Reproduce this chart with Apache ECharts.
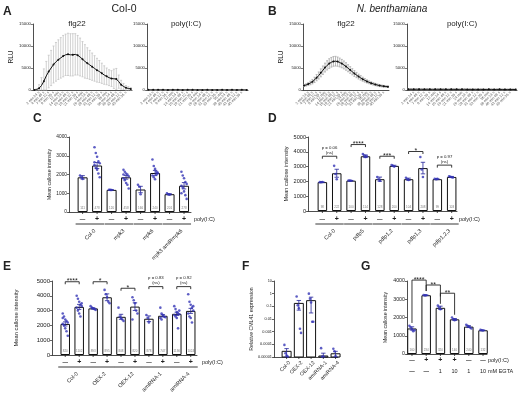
<!DOCTYPE html>
<html><head><meta charset="utf-8">
<script src="https://cdn.jsdelivr.net/npm/echarts@6/dist/echarts.min.js"></script>
<style>html,body{margin:0;padding:0;background:#fff}#c{width:520px;height:393px}</style>
</head><body><div id="c"></div>
<script>
// ---------- DATA ----------
const timeLabels = Array.from({length:41},(_,i)=>{const t=i*72,m=Math.floor(t/60),s=t%60;return s?`${m} min ${s} s`:`${m} min`;});
const colFlgMean=[0,100,400,1000,2000,3200,4200,5000,5800,6400,6900,7300,7700,8000,8100,8000,8000,8100,7900,7500,7000,6500,6100,5700,5300,4900,4500,4200,3800,3400,3100,2800,2600,2550,2500,1900,1200,800,500,350,250];
const colFlgSd=[50,200,800,1800,2800,3300,3700,4000,4200,4400,4500,4600,4700,4700,4800,4800,4800,4700,4500,4300,4000,3800,3500,3300,3100,2900,2700,2500,2300,2100,1900,1800,1800,2200,2400,1500,1000,700,500,400,300];
const colPolyMean=[40,30,30,20,30,40,30,20,20,30,30,40,30,30,20,20,30,30,30,20,20,30,20,30,30,20,20,30,20,20,30,20,20,20,30,20,20,20,30,20,20];
const colPolySd=[20,20,20,20,20,20,20,20,20,20,20,20,20,20,20,20,20,20,20,20,20,20,20,20,20,20,20,20,20,20,20,20,20,20,20,20,20,20,20,20,20];
const nbFlgMean=[1000,1150,1350,1600,1900,2300,2800,3300,3900,4500,5100,5600,6000,6300,6500,6550,6450,6250,6000,5700,5350,4950,4550,4150,3750,3400,3050,2750,2450,2200,1950,1750,1550,1400,1250,1120,1000,920,850,790,740];
const nbFlgSd=[200,250,300,400,500,600,700,800,900,950,1000,1050,1100,1100,1100,1100,1050,1000,950,900,850,800,750,700,650,600,550,500,450,400,350,320,300,280,260,240,220,200,190,180,170];
const nbPolyMean=[180,170,160,170,180,160,150,170,160,150,160,170,150,160,150,140,160,150,150,140,150,160,140,150,140,150,140,150,140,130,150,140,130,140,150,130,140,130,140,130,130];
const nbPolySd=[90,90,80,90,80,80,80,90,80,80,80,80,80,80,70,80,80,70,80,70,70,80,70,70,70,70,70,70,70,70,70,70,70,70,70,70,70,70,70,70,70];

const cGroups=['Col-0','mpk3','mpk6','mpk3 amiRmpk6'];
const cSigns=['—','+','—','+','—','+','—','+'];
const cMeans=[1850,2480,1180,1850,1200,2080,950,1400];
const cSems=[90,160,15,100,170,140,30,170];
const cN=['111','478','120','458','166','240','201','278'];
const cPoints=[[1950,1850,1760],[3450,3150,2950,2700,2600,2500,2350,2250,2050,1850,2650],[1190,1180,1170],[2250,2150,2050,2000,1900,1800,1700,1550,1450,1250,2000],[1450,1350,950],[2800,2450,2300,2150,2050,1950,1850,1750,2000,2100],[1000,950,920],[2150,1950,1800,1600,1500,1400,1300,1100,900,700,1000]];

const dGroups=['Col-0','pdlp5','pdlp1,2','pdlp1,3','pdlp1,2,3'];
const dSigns=['—','+','—','+','—','+','—','+','—','+'];
const dMeans=[1950,2550,2050,3700,2150,3050,2150,2900,2150,2300];
const dSems=[15,270,15,90,140,40,70,390,25,35];
const dN=['98','222','100','114','128','200','104','208','99','103'];
const dPoints=[[1950,1940,1960],[3050,2500,2150],[2060,2050,2040],[3850,3750,3650,3700],[2300,2150,2050],[3100,3050,3000],[2250,2150,2100],[3650,2800,2300],[2180,2150,2170],[2350,2310,2280,2260]];
const dBrackets=[[0,1,3700,null,null,'p = 0.06\n(ns)'],[2,3,4490,null,null,'****'],[4,5,3700,null,null,'***'],[6,7,4020,null,null,'*'],[8,9,3100,null,null,'p = 0.97\n(ns)']];

const eGroups=['Col-0','OEX-2','OEX-12','amiRNA-1','amiRNA-4'];
const eSigns=['—','+','—','+','—','+','—','+','—','+'];
const eMeans=[2100,3250,3150,3900,2580,3270,2450,2650,2780,2980];
const eSems=[140,170,40,230,170,260,190,80,110,170];
const eN=['820','1102','893','895','808','820','878','747','1190','1024'];
const ePoints=[[2800,2600,2400,2300,2200,2100,2000,1800,1600,1300,2500],[4000,3800,3600,3400,3300,3200,3000,2800,2600,3500],[3300,3200,3150,3100,3050],[4400,4100,3900,3600,3500],[3200,2600,2500,2400,2300],[3900,3700,3500,3000,2800,2400],[2700,2500,2200],[3200,2800,2700,2600,2550,2500,2400],[3300,3100,2900,2800,2750,2700,2600,2500,1800,3000],[4100,3600,3400,3200,3000,2800,2600,2500,2200,3300]];
const eBrackets=[[0,1,4950,null,null,'****'],[2,3,4950,null,null,'*'],[4,5,4510,null,null,'*'],[6,7,4620,null,null,'p = 0.83\n(ns)'],[8,9,4620,null,null,'p = 0.92\n(ns)']];

const fGroups=['Col-0','OEX-2','OEX-12','amiRNA-1','amiRNA-4'];
const fMeans=[2.8e-5,0.17,0.28,1.2e-5,1.8e-5];
const fSems=[1.8e-5,0.12,0.25,0.8e-5,1.0e-5];
const fPoints=[[9e-5,2e-5,1.3e-5,1.1e-5],[0.6,0.12,0.07,0.0017,0.0008],[1.0,0.4,0.2,0.006,0.006],[5e-5,1.1e-5,1.05e-5],[4.5e-5,2.8e-5,1.2e-5]];

const gPoly=['—','+','+','+','—','—'];
const gEgta=['—','—','1','10','1','10'];
const gMeans=[1400,3220,2530,1900,1500,1300];
const gSems=[90,15,90,45,50,15];
const gN=['160','234','320','140','240','132'];
const gPoints=[[1550,1450,1350,1250,1300],[3230,3210,3220],[2650,2550,2450],[2000,1900,1850,1880],[1600,1550,1500,1450,1400],[1320,1300,1290]];
const gBrackets=[[0,1,4050,1700,3450,'****'],[1,2,3780,3450,2750,'**'],[2,3,3330,3150,2150,'**']];

// ---------- BUILD ----------
const F="'Liberation Sans', Arial, sans-serif";
const INK='#222', PT='#3535b5', ERR='#23239a';
const grids=[],xAxes=[],yAxes=[],series=[],gfx=[];
const plain=v=>String(v);

function txt(x,y,text,size,o={}){
  return {type:'text',x,y,rotation:o.rot||0,z2:10,style:{text,fill:o.fill||INK,
    font:`${o.italic?'italic ':''}${o.bold?'bold ':''}${size}px ${F}`,
    align:o.align||'center',textAlign:o.align||'center',
    verticalAlign:o.va||'middle',textVerticalAlign:o.va||'middle',lineHeight:o.lh||size}};
}
const ln=(x1,y1,x2,y2,c=INK,w=0.8)=>({type:'line',shape:{x1,y1,x2,y2},style:{stroke:c,lineWidth:w}});

function errRender(color,hw,floor){
  return (params,api)=>{
    const x=api.value(0),m=api.value(1),s=api.value(2);
    const hi=api.coord([x,m+s]),lo=api.coord([x,Math.max(m-s,floor)]);
    return {type:'group',children:[ln(hi[0],hi[1],lo[0],lo[1],color),ln(hi[0]-hw,hi[1],hi[0]+hw,hi[1],color),ln(lo[0]-hw,lo[1],lo[0]+hw,lo[1],color)]};
  };
}

function kinPanel(box,mean,sd,errColor,yName){
  const gi=grids.length;
  grids.push({left:box[0],top:box[1],width:box[2],height:box[3]});
  xAxes.push({type:'category',gridIndex:gi,data:timeLabels,boundaryGap:true,
    axisLine:{onZero:false,lineStyle:{color:INK,width:0.8}},
    axisTick:{interval:0,length:1.5,lineStyle:{color:INK,width:0.6}},
    axisLabel:{interval:1,rotate:45,fontSize:3.7,margin:2,color:'#555',fontFamily:F,hideOverlap:false}});
  yAxes.push({type:'value',gridIndex:gi,min:0,max:15000,interval:5000,name:yName,nameLocation:'middle',nameGap:17,
    nameTextStyle:{fontSize:6.5,fontFamily:F,color:INK},
    axisLine:{show:true,onZero:false,lineStyle:{color:INK,width:0.8}},axisTick:{show:true,length:2,lineStyle:{color:INK,width:0.6}},
    splitLine:{show:false},axisLabel:{fontSize:4.3,margin:2,color:INK,fontFamily:F,formatter:plain}});
  series.push({type:'custom',xAxisIndex:gi,yAxisIndex:gi,silent:true,clip:false,z:2,encode:{x:0,y:1},
    data:mean.map((m,i)=>[i,m,sd[i]]),renderItem:errRender(errColor,1,0)});
  series.push({type:'line',xAxisIndex:gi,yAxisIndex:gi,data:mean,symbol:'circle',symbolSize:2,silent:true,
    lineStyle:{color:'#111',width:1},itemStyle:{color:'#111'},z:3});
}

function barPanel(o){
  const gi=grids.length;
  grids.push({left:o.box[0],top:o.box[1],width:o.box[2],height:o.box[3]});
  xAxes.push({type:'value',gridIndex:gi,min:o.xmin,max:o.xmax,axisLine:{onZero:false,lineStyle:{color:INK,width:0.8}},
    axisTick:{show:false},axisLabel:{show:false},splitLine:{show:false}});
  const ya={gridIndex:gi,name:o.yName,nameLocation:'middle',nameGap:o.nameGap,
    nameTextStyle:{fontSize:o.nameSize,fontFamily:F,color:INK},
    axisLine:{show:true,onZero:false,lineStyle:{color:INK,width:0.8}},axisTick:{show:true,length:2,lineStyle:{color:INK,width:0.7}},
    splitLine:{show:false},axisLabel:{fontSize:o.labSize,margin:2,color:INK,fontFamily:F,formatter:plain}};
  if(o.log){Object.assign(ya,{type:'log',logBase:10,min:1e-5,max:10,splitNumber:6});
    ya.axisLabel.formatter=v=>v>=1?String(Math.round(v)):v.toFixed(Math.round(-Math.log10(v)));}
  else Object.assign(ya,{type:'value',min:0,max:o.ymax,interval:o.yint});
  yAxes.push(ya);
  const base=o.log?1e-5:0;
  if(o.log){
    series.push({type:'custom',xAxisIndex:gi,yAxisIndex:gi,silent:true,clip:false,z:2,encode:{x:0,y:1},
      data:o.means.map((m,i)=>[i,m]),renderItem:(p,api)=>{
        const a=api.coord([api.value(0),api.value(1)]),b=api.coord([api.value(0),base]);
        return {type:'rect',shape:{x:a[0]-o.barW/2,y:a[1],width:o.barW,height:b[1]-a[1]},style:{fill:'#fff',stroke:'#111',lineWidth:1}};
      }});
  } else {
    series.push({type:'bar',xAxisIndex:gi,yAxisIndex:gi,silent:true,barWidth:o.barW,z:2,
      data:o.means.map((m,i)=>[i,m]),itemStyle:{color:'#fff',borderColor:'#111',borderWidth:1},
      label:{show:true,position:'insideBottom',distance:2,formatter:p=>o.ns[p.dataIndex],fontSize:3,color:'#777',fontFamily:F}});
  }
  series.push({type:'custom',xAxisIndex:gi,yAxisIndex:gi,silent:true,clip:false,z:4,encode:{x:0,y:1},
    data:o.means.map((m,i)=>[i,m,o.sems[i]]),renderItem:errRender(ERR,2.2,base)});
  const pts=[];
  o.points.forEach((arr,i)=>arr.forEach((v,k)=>pts.push([i+((k%5)-2)*0.09,v])));
  series.push({type:'scatter',xAxisIndex:gi,yAxisIndex:gi,silent:true,z:5,symbolSize:2.6,itemStyle:{color:PT},data:pts});
  series.push({type:'custom',xAxisIndex:gi,yAxisIndex:gi,silent:true,clip:false,z:6,encode:{x:0,y:1},
    data:o.means.map((m,i)=>[i,base]),renderItem:(params,api)=>{
      const i=api.value(0),p=api.coord([i,base]),ch=[ln(p[0],p[1],p[0],p[1]+2)];
      if(o.signs){const s=o.signs[i];ch.push(txt(p[0],p[1]+o.signDy,s,s==='+'?7:5.5,{bold:true}));}
      if(o.row2){ch.push(txt(p[0],p[1]+o.row2Dy,o.row2[i],5.5,{bold:o.row2[i]==='—'}));}
      if(o.groups&&i%2===0){const q=api.coord([i+1,base]);
        ch.push(ln(p[0]-7,p[1]+o.ulDy,q[0]+7,p[1]+o.ulDy,INK,0.9));
        ch.push(txt((p[0]+q[0])/2+5,p[1]+o.ulDy+6,o.groups[i/2],o.grpSize,{align:'right',rot:Math.PI/4}));}
      if(o.labels){ch.push(txt(p[0]+3,p[1]+5,o.labels[i],o.grpSize,{align:'right',rot:Math.PI/4}));}
      return {type:'group',children:ch};
    }});
  if(o.brackets){
    series.push({type:'custom',xAxisIndex:gi,yAxisIndex:gi,silent:true,clip:false,z:6,encode:{x:0,y:2},
      data:o.brackets.map(b=>[b[0],b[1],b[2]]),renderItem:(params,api)=>{
        const b=o.brackets[params.dataIndex];
        const a=api.coord([b[0],b[2]]),c=api.coord([b[1],b[2]]);
        const yl=b[3]!=null?api.coord([b[0],b[3]])[1]:a[1]+2.5;
        const yr=b[4]!=null?api.coord([b[1],b[4]])[1]:c[1]+2.5;
        const star=b[5].indexOf('*')===0;
        return {type:'group',children:[
          {type:'polyline',shape:{points:[[a[0],yl],[a[0],a[1]],[c[0],c[1]],[c[0],yr]]},style:{stroke:INK,lineWidth:0.9,fill:null}},
          star?txt((a[0]+c[0])/2,a[1]+3.2,b[5],7,{va:'bottom'}):txt((a[0]+c[0])/2,a[1]-1,b[5],4.3,{va:'bottom',lh:5})]};
      }});
  }
}

kinPanel([33,24,99,66],colFlgMean,colFlgSd,'#c4c4c4','RLU');
kinPanel([147,24,101,66],colPolyMean,colPolySd,'#c4c4c4','');
kinPanel([303,24,86,66],nbFlgMean,nbFlgSd,'#a8a8a8','RLU');
kinPanel([407,24,110,66],nbPolyMean,nbPolySd,'#a8a8a8','');

barPanel({box:[69,137,122,75],xmin:-0.94,xmax:7.48,ymax:4000,yint:1000,means:cMeans,sems:cSems,points:cPoints,ns:cN,
  yName:'Mean callose intensity',nameGap:15,nameSize:5.2,labSize:4.8,barW:10,signs:cSigns,signDy:7,groups:cGroups,ulDy:12,grpSize:5.5});
barPanel({box:[308,137,149,74],xmin:-1.0,xmax:9.37,ymax:5000,yint:1000,means:dMeans,sems:dSems,points:dPoints,ns:dN,
  yName:'Mean callose intensity',nameGap:16,nameSize:5.6,labSize:5.6,barW:9.5,signs:dSigns,signDy:8,groups:dGroups,ulDy:13,grpSize:5.5,brackets:dBrackets});
barPanel({box:[52,281,145,74],xmin:-0.95,xmax:9.45,ymax:5000,yint:1000,means:eMeans,sems:eSems,points:ePoints,ns:eN,
  yName:'Mean callose intensity',nameGap:33,nameSize:5.8,labSize:6,barW:9.5,signs:eSigns,signDy:7,groups:eGroups,ulDy:12,grpSize:5.5,brackets:eBrackets});
barPanel({box:[274,281,64,76],xmin:-1.03,xmax:4.2,log:true,means:fMeans,sems:fSems,points:fPoints,
  yName:'Relative CML41 expression',nameGap:17,nameSize:5.2,labSize:3.9,barW:9,labels:fGroups,grpSize:5.3});
barPanel({box:[407,281,80,73],xmin:-0.35,xmax:5.28,ymax:4000,yint:1000,means:gMeans,sems:gSems,points:gPoints,ns:gN,
  yName:'Mean callose intensity',nameGap:19,nameSize:5.2,labSize:5.3,barW:9.5,signs:gPoly,signDy:6,row2:gEgta,row2Dy:17,brackets:gBrackets});

const L={bold:true,align:'left',va:'top'};
gfx.push(txt(3,6,'A',12,L),txt(268,6,'B',12,L),txt(33,113,'C',12,L),txt(268,113,'D',12,L),
  txt(3,261,'E',12,L),txt(242,261,'F',12,L),txt(361,261,'G',12,L));
gfx.push(txt(124,9,'Col-0',10.5),txt(392,9,'N. benthamiana',10,{italic:true}));
gfx.push(txt(77,24,'flg22',8),txt(186,24,'poly(I:C)',8),txt(346,24,'flg22',8),txt(462,24,'poly(I:C)',8));
gfx.push(txt(194,219,'poly(I:C)',5.5,{align:'left'}),txt(459,219,'poly(I:C)',5.5,{align:'left'}),
  txt(202,362,'poly(I:C)',5.5,{align:'left'}),txt(488,360,'poly(I:C)',5.5,{align:'left'}),txt(488,371,'mM EGTA',5.5,{align:'left'}));

const chart=echarts.init(document.getElementById('c'),null,{renderer:'canvas'});
chart.setOption({animation:false,grid:grids,xAxis:xAxes,yAxis:yAxes,series:series,graphic:{elements:gfx}});
</script></body></html>
